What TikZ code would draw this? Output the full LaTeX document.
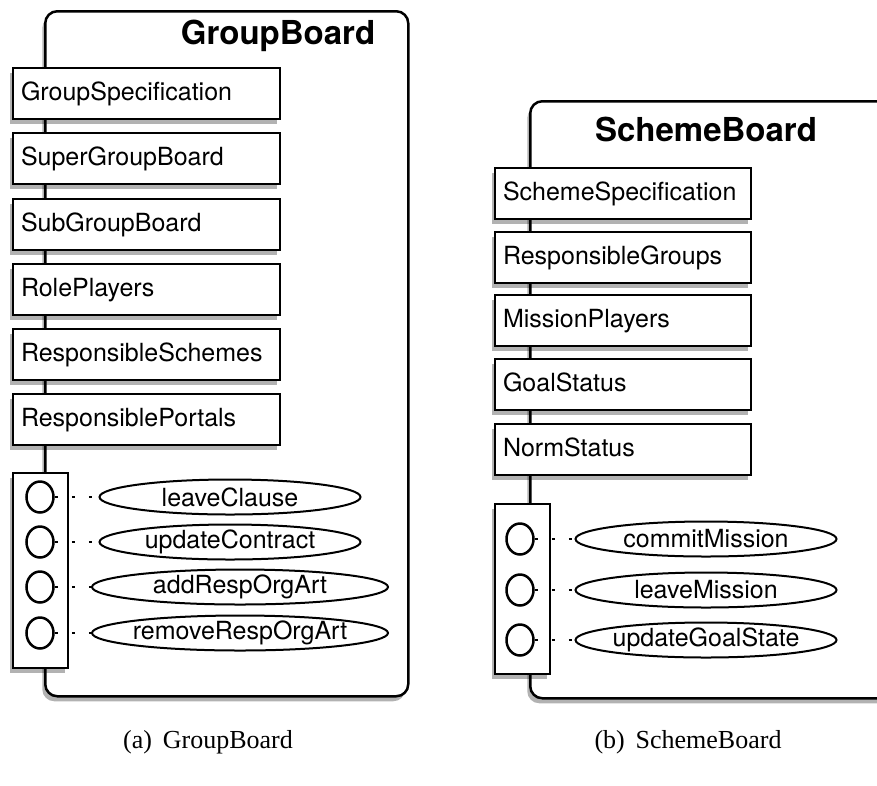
\documentclass[tikz,border=0pt]{standalone}
\usepackage{fontspec}
\setmainfont{TeX Gyre Heros}
\newfontfamily\capfont{Liberation Serif}
\usetikzlibrary{shapes.geometric,shadows}

\begin{document}
\begin{tikzpicture}[x=1pt, y=-1pt]
    \tikzstyle{shade}=[
        drop shadow={shadow xshift=-3pt, shadow yshift=-5pt, opacity=0.3, fill=black}
    ]
    \tikzstyle{board}=[
        draw = black,
        line width = 2.5pt,
        fill = white,
        rounded corners = 12pt,
        anchor = north west,
        shade
    ]
    \tikzstyle{prop}=[
        draw = black,
        line width = 2pt,
        fill = white,
        anchor = north west,
        minimum height = 51pt,
        inner xsep = 8pt,
        align = left,
        text height = 18pt,
        text depth = 5pt,
        font = \fontsize{25}{30}\selectfont,
        shade
    ]
    \tikzstyle{opbox}=[
        draw = black,
        line width = 2pt,
        fill = white,
        anchor = north west,
        minimum width = 55pt,
        shade
    ]
    \tikzstyle{port}=[
        draw = black,
        line width = 2.5pt,
        ellipse,
        minimum width = 27pt,
        minimum height = 31pt,
        inner sep = 0pt
    ]
    \tikzstyle{method}=[
        draw = black,
        line width = 2pt,
        fill = white,
        ellipse,
        minimum height = 35pt,
        inner xsep = -3pt,
        inner ysep = 0pt,
        font = \fontsize{25}{30}\selectfont
    ]
    \tikzstyle{link}=[line width = 2pt, dash pattern = on 3pt off 14pt]
    \tikzstyle{title}=[font = \fontsize{33}{40}\selectfont\bfseries, anchor = base]
    \tikzstyle{caption}=[font = \capfont\fontsize{26}{30}\selectfont]

    \useasboundingbox (0,0) rectangle (877,785);
    \clip (0,0) rectangle (877,785);

    % (a) GroupBoard
	\node[board, minimum width=363pt, minimum height=685pt] (gb) at (44, 10) {};
	\node[title] (gbt) at (278, 44) {GroupBoard};

	\node[prop, text width=251pt] (gs)  at (12, 67)  {GroupSpecification};
	\node[prop, text width=251pt] (sgb) at (12, 132) {SuperGroupBoard};
	\node[prop, text width=251pt] (subgb) at (12, 198) {SubGroupBoard};
	\node[prop, text width=251pt] (rp)  at (12, 263) {RolePlayers};
	\node[prop, text width=251pt] (rs)  at (12, 328) {ResponsibleSchemes};
	\node[prop, text width=251pt] (rpo) at (12, 393) {ResponsiblePortals};

	\node[opbox, minimum height=195pt] (gops) at (12, 472) {};
	\node[port] (p1) at (40, 497) {};
	\node[port] (p2) at (40, 542) {};
	\node[port] (p3) at (40, 587) {};
	\node[port] (p4) at (40, 633) {};

	\node[method, minimum width=261pt] (lc)   at (230, 497) {leaveClause};
	\node[method, minimum width=261pt] (uc)   at (230, 542) {updateContract};
	\node[method, minimum width=296pt] (aroa) at (240, 587) {addRespOrgArt};
	\node[method, minimum width=296pt] (rroa) at (240, 633) {removeRespOrgArt};

	\draw[link] (p1.east) -- (lc.west);
	\draw[link] (p2.east) -- (uc.west);
	\draw[link] (p3.east) -- (aroa.west);
	\draw[link] (p4.east) -- (rroa.west);

    % (b) SchemeBoard
	\node[board, minimum width=380pt, minimum height=597pt] (sb) at (529, 100) {};
	\node[title] (sbt) at (706, 141) {SchemeBoard};

	\node[prop, text width=240pt] (ss) at (494, 167) {SchemeSpecification};
	\node[prop, text width=240pt] (rg) at (494, 231) {ResponsibleGroups};
	\node[prop, text width=240pt] (mp) at (494, 294) {MissionPlayers};
	\node[prop, text width=240pt] (gst) at (494, 358) {GoalStatus};
	\node[prop, text width=240pt] (ns) at (494, 423) {NormStatus};

	\node[opbox, minimum height=170pt] (sops) at (494, 503) {};
	\node[port] (q1) at (520, 539) {};
	\node[port] (q2) at (520, 590) {};
	\node[port] (q3) at (520, 640) {};

	\node[method, minimum width=261pt] (cm)  at (706, 539) {commitMission};
	\node[method, minimum width=261pt] (lm)  at (706, 590) {leaveMission};
	\node[method, minimum width=261pt] (ugs) at (706, 640) {updateGoalState};

	\draw[link] (q1.east) -- (cm.west);
	\draw[link] (q2.east) -- (lm.west);
	\draw[link] (q3.east) -- (ugs.west);

	\node[caption] (capa) at (208, 742) {(a)\, GroupBoard};
	\node[caption] (capb) at (688, 742) {(b)\, SchemeBoard};

\end{tikzpicture}
\end{document}
